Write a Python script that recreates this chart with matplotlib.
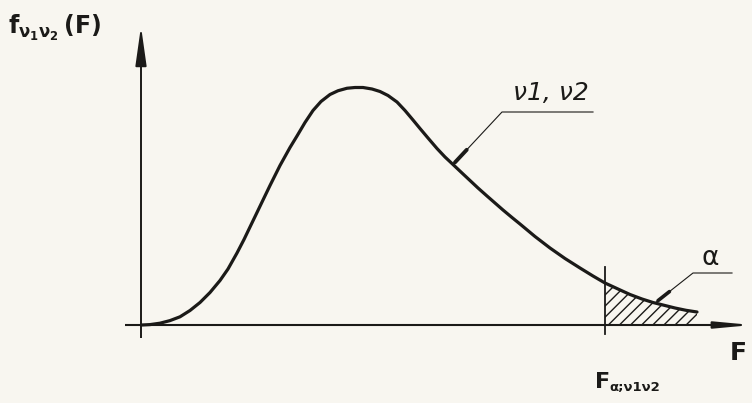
import matplotlib
matplotlib.use("Agg")
import matplotlib.pyplot as plt
import numpy as np

# F density sketch: points (F, f(F))
F_vals = [0.01, 0.09, 0.19, 0.29, 0.39, 0.49, 0.59, 0.69, 0.79, 0.87,
          0.96, 1.03, 1.09, 1.16, 1.22, 1.29, 1.39, 1.49, 1.56, 1.64,
          1.72, 1.80, 1.89, 1.97, 2.06, 2.14, 2.22, 2.31, 2.39, 2.47,
          2.56, 2.64, 2.72, 2.79, 2.87, 2.96, 3.04, 3.12, 3.21, 3.29,
          3.37, 3.46, 3.54, 3.62, 3.71, 3.79, 3.94, 4.09, 4.24, 4.39,
          4.52, 4.64, 4.77, 4.89, 5.01, 5.12, 5.24, 5.34, 5.45, 5.56]
f_vals = [0.000, 0.0016, 0.0072, 0.0176, 0.0328, 0.058, 0.090, 0.130, 0.178, 0.224,
          0.288, 0.342, 0.392, 0.450, 0.500, 0.558, 0.638, 0.710, 0.756, 0.810,
          0.858, 0.894, 0.922, 0.937, 0.947, 0.950, 0.950, 0.944, 0.934, 0.918,
          0.892, 0.858, 0.820, 0.786, 0.748, 0.706, 0.672, 0.642, 0.608, 0.578,
          0.548, 0.516, 0.488, 0.460, 0.430, 0.404, 0.354, 0.308, 0.266, 0.228,
          0.196, 0.168, 0.144, 0.122, 0.104, 0.090, 0.078, 0.068, 0.0588, 0.052]
F_alpha = 4.64

ink = "#1b1a18"
paper = "#f8f6f0"

plt.rcParams["mathtext.fontset"] = "custom"
plt.rcParams["mathtext.rm"] = "DejaVu Sans:bold"
plt.rcParams["mathtext.it"] = "DejaVu Sans:bold"
plt.rcParams["mathtext.bf"] = "DejaVu Sans:bold"
plt.rcParams["mathtext.default"] = "rm"
plt.rcParams["hatch.linewidth"] = 1.0
plt.rcParams["hatch.color"] = ink

fig = plt.figure(figsize=(7.52, 4.03), dpi=100, facecolor=paper)
ax = fig.add_axes([0, 0, 1, 1])
ax.set_facecolor(paper)
ax.set_xlim(-1.41, 6.11)
ax.set_ylim(-0.312, 1.30)
ax.axis("off")

F = np.array(F_vals)
f = np.array(f_vals)

# axes with arrow heads
ax.plot([-0.16, 5.9], [0, 0], color=ink, lw=1.5, solid_capstyle="butt", zorder=2)
ax.plot([0, 0], [-0.052, 1.08], color=ink, lw=1.4, solid_capstyle="butt", zorder=2)
ax.annotate("", xy=(0, 1.195), xytext=(0, 1.05),
            arrowprops=dict(arrowstyle="-|>,head_length=1.7,head_width=0.24",
                            mutation_scale=14, color=ink, lw=1.4, shrinkA=0, shrinkB=0))
ax.annotate("", xy=(6.11, 0), xytext=(5.8, 0),
            arrowprops=dict(arrowstyle="-|>,head_length=1.5,head_width=0.14",
                            mutation_scale=14, color=ink, lw=1.5, shrinkA=0, shrinkB=0))

# density curve
ax.plot(F, f, color=ink, lw=2.3, solid_joinstyle="round", solid_capstyle="round", zorder=4)

# shaded upper tail alpha
tail = F >= F_alpha
ax.fill_between(F[tail], 0, f[tail], facecolor="none", edgecolor=ink,
                hatch="///", lw=0, zorder=3)
ax.plot([F_alpha, F_alpha], [-0.036, 0.232], color=ink, lw=1.3, zorder=4)

# leader for the curve label
p0 = np.array([3.12, 0.642])
p1 = np.array([3.61, 0.852])
ax.plot([p0[0], p1[0], 4.52], [p0[1], p1[1], 0.852], color=ink, lw=0.8, zorder=4)
d = p1 - p0
ax.plot([p0[0] + 0.04 * d[0], p0[0] + 0.28 * d[0]],
        [p0[1] + 0.04 * d[1], p0[1] + 0.28 * d[1]],
        color=ink, lw=2.8, solid_capstyle="round", zorder=5)
ax.text(3.72, 0.90, "ν1, ν2", fontsize=18, color=ink, style="italic",
        ha="left", va="baseline", zorder=6)

# leader for alpha
q0 = np.array([5.14, 0.088])
q1 = np.array([5.52, 0.208])
ax.plot([q0[0], q1[0], 5.91], [q0[1], q1[1], 0.208], color=ink, lw=0.8, zorder=4)
e = q1 - q0
ax.plot([q0[0] + 0.08 * e[0], q0[0] + 0.38 * e[0]],
        [q0[1] + 0.08 * e[1], q0[1] + 0.38 * e[1]],
        color=ink, lw=2.6, solid_capstyle="round", zorder=5)
ax.text(5.69, 0.268, "α", fontsize=19, color=ink, ha="center", va="center")

# labels
ax.text(-1.33, 1.188, r"$f_{\nu_1\nu_2}\,(F)$", fontsize=17, color=ink,
        ha="left", va="center")
ax.text(5.97, -0.112, "F", fontsize=18, color=ink, fontweight="bold",
        ha="center", va="center")
ax.text(4.54, -0.23, "F", fontsize=16, color=ink, fontweight="bold",
        ha="left", va="center")
ax.text(4.68, -0.25, "α;ν1ν2", fontsize=9.5, color=ink, fontweight="bold",
        ha="left", va="center")

fig.savefig("out.png", dpi=100, facecolor=paper)
